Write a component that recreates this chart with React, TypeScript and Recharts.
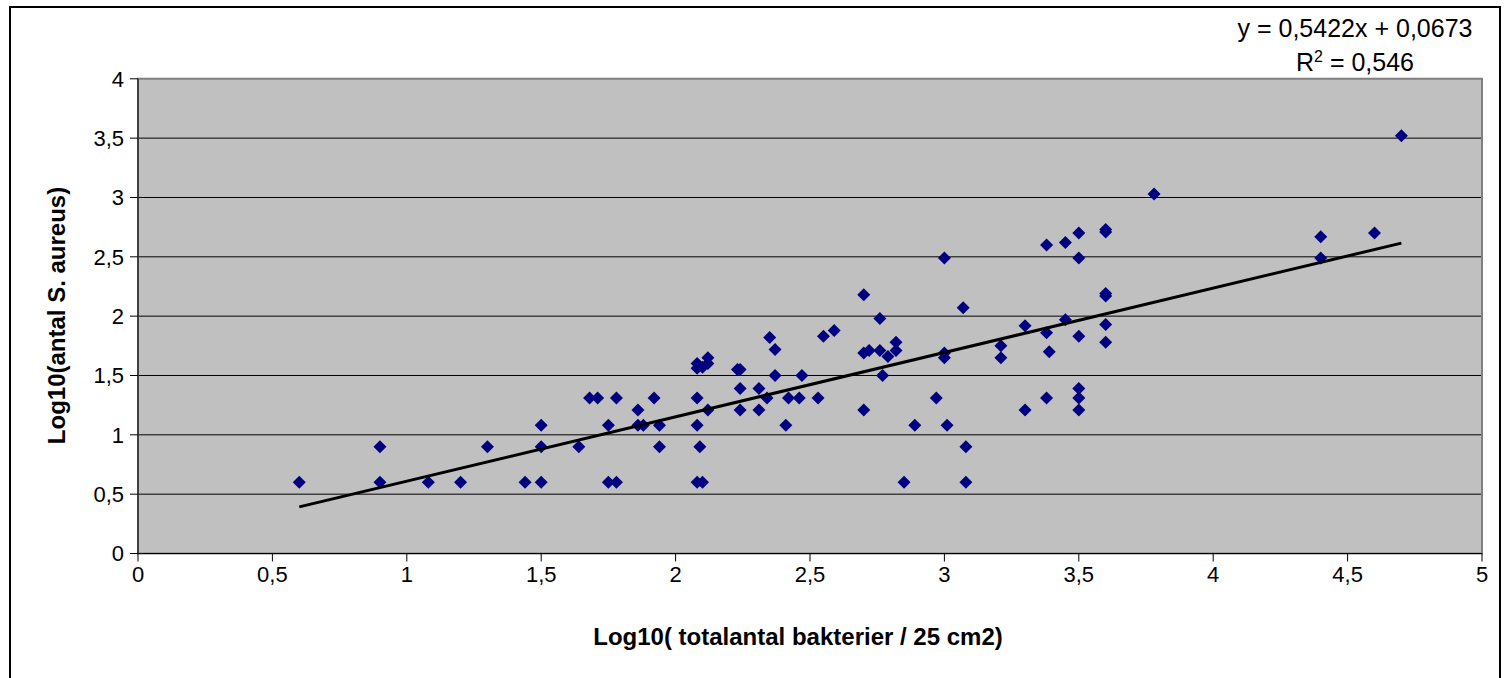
import React from 'react';
import { ScatterChart, Scatter, XAxis, YAxis, CartesianGrid, ReferenceArea } from 'recharts';

// log10 totalantal bakterier / 25 cm2
const totalBacteria = [
  0.6, 0.9, 0.9, 1.08, 1.2, 1.3, 1.44, 1.5, 1.5, 1.5, 1.64, 1.68, 1.71, 1.75, 1.75, 1.78, 1.78, 1.86, 1.86, 1.88,
  1.92, 1.94, 1.94, 2.08, 2.08, 2.1, 2.12, 2.12, 2.08, 2.08, 2.09, 2.08, 2.1, 2.12, 2.23, 2.24, 2.24, 2.24, 2.31, 2.31,
  2.34, 2.35, 2.37, 2.37, 2.41, 2.42, 2.46, 2.47, 2.53, 2.55, 2.59, 2.7, 2.7, 2.72, 2.76, 2.79, 2.82, 2.82, 2.76, 2.77,
  2.7, 2.85, 2.89, 2.97, 3.0, 3.0, 3.0, 3.01, 3.07, 3.08, 3.08, 3.21, 3.21, 3.3, 3.3, 3.38, 3.38, 3.39, 3.38, 3.45,
  3.45, 3.5, 3.5, 3.5, 3.5, 3.5, 3.5, 3.6, 3.6, 3.6, 3.6, 3.6, 3.6, 3.78, 4.4, 4.4, 4.6, 4.7,
];

// log10 antal S. aureus
const aureus = [
  0.6, 0.9, 0.6, 0.6, 0.6, 0.9, 0.6, 1.08, 0.9, 0.6, 0.9, 1.31, 1.31, 1.08, 0.6, 1.31, 0.6, 1.21, 1.08, 1.08,
  1.31, 1.08, 0.9, 1.6, 1.56, 1.57, 1.65, 1.6, 1.31, 1.08, 0.9, 0.6, 0.6, 1.21, 1.55, 1.55, 1.39, 1.21, 1.39, 1.21,
  1.31, 1.82, 1.72, 1.5, 1.08, 1.31, 1.31, 1.5, 1.31, 1.83, 1.88, 2.18, 1.69, 1.71, 1.71, 1.66, 1.78, 1.71, 1.98, 1.5,
  1.21, 0.6, 1.08, 1.31, 2.49, 1.69, 1.65, 1.08, 2.07, 0.9, 0.6, 1.75, 1.65, 1.92, 1.21, 2.6, 1.86, 1.7, 1.31, 2.62,
  1.97, 2.49, 2.7, 1.83, 1.39, 1.31, 1.21, 2.73, 2.71, 2.19, 2.17, 1.93, 1.78, 3.03, 2.67, 2.49, 2.7, 3.52,
];

const xTicks = [0, 0.5, 1, 1.5, 2, 2.5, 3, 3.5, 4, 4.5, 5];
const yTicks = [0, 0.5, 1, 1.5, 2, 2.5, 3, 3.5, 4];
const gridLines = [0.5, 1, 1.5, 2, 2.5, 3, 3.5];

// linear trend as printed on the chart
const trendSlope = 0.5422;
const trendIntercept = 0.0673;
const trendRange = [0.6, 4.7];

const points = totalBacteria.map((x, i) => ({ x, y: aureus[i] }));
const trendPoints = trendRange.map((x) => ({ x, y: trendSlope * x + trendIntercept }));

const font = '"Liberation Sans", Arial, sans-serif';
const comma = (v: number) => String(v).replace('.', ',');

const Diamond = (props: any) => {
  const { cx, cy } = props;
  const r = 6.5;
  return <polygon points={`${cx},${cy - r} ${cx + r},${cy} ${cx},${cy + r} ${cx - r},${cy}`} fill="#000080" />;
};

const NoDot = () => <g />;

export default function App() {
  return (
    <div
      style={{
        position: 'absolute',
        left: 9,
        top: 6,
        width: 1488,
        height: 690,
        border: '2px solid #000',
        background: '#fff',
        fontFamily: font,
      }}
    >
      <ScatterChart width={1488} height={690} margin={{ top: 70.8, right: 17, left: 0, bottom: 114.5 }}>
        <CartesianGrid vertical={false} horizontalValues={gridLines} stroke="#000" fill="#c0c0c0" fillOpacity={1} />
        <ReferenceArea x1={0} x2={5} y1={0} y2={4} fill="none" stroke="#808080" strokeWidth={2} />
        <XAxis
          type="number"
          dataKey="x"
          domain={[0, 5]}
          ticks={xTicks}
          tickFormatter={comma}
          height={30}
          axisLine={{ stroke: '#000' }}
          tickLine={{ stroke: '#000' }}
          tickSize={8}
          tickMargin={5}
          tick={{ fill: '#000', fontSize: 22, fontFamily: font }}
        />
        <YAxis
          type="number"
          dataKey="y"
          domain={[0, 4]}
          ticks={yTicks}
          tickFormatter={comma}
          width={127}
          axisLine={{ stroke: '#000' }}
          tickLine={{ stroke: '#000' }}
          tickSize={8}
          tickMargin={6}
          tick={{ fill: '#000', fontSize: 22, fontFamily: font }}
        />
        <Scatter data={points} shape={Diamond} isAnimationActive={false} />
        <Scatter
          data={trendPoints}
          line={{ stroke: '#000', strokeWidth: 3 }}
          shape={NoDot}
          isAnimationActive={false}
        />
        <text x={787} y={637} textAnchor="middle" fontFamily={font} fontSize={24} fontWeight="bold" fill="#000">
          Log10( totalantal bakterier / 25 cm2)
        </text>
        <text
          transform="translate(54, 307.5) rotate(-90)"
          textAnchor="middle"
          fontFamily={font}
          fontSize={24}
          fontWeight="bold"
          fill="#000"
        >
          Log10(antal S. aureus)
        </text>
        <text x={1344} y={29} textAnchor="middle" fontFamily={font} fontSize={25} fill="#000">
          y = 0,5422x + 0,0673
        </text>
        <text x={1344} y={63} textAnchor="middle" fontFamily={font} fontSize={25} fill="#000">
          <tspan>R</tspan>
          <tspan dy={-9} fontSize={16}>2</tspan>
          <tspan dy={9}> = 0,546</tspan>
        </text>
      </ScatterChart>
    </div>
  );
}
